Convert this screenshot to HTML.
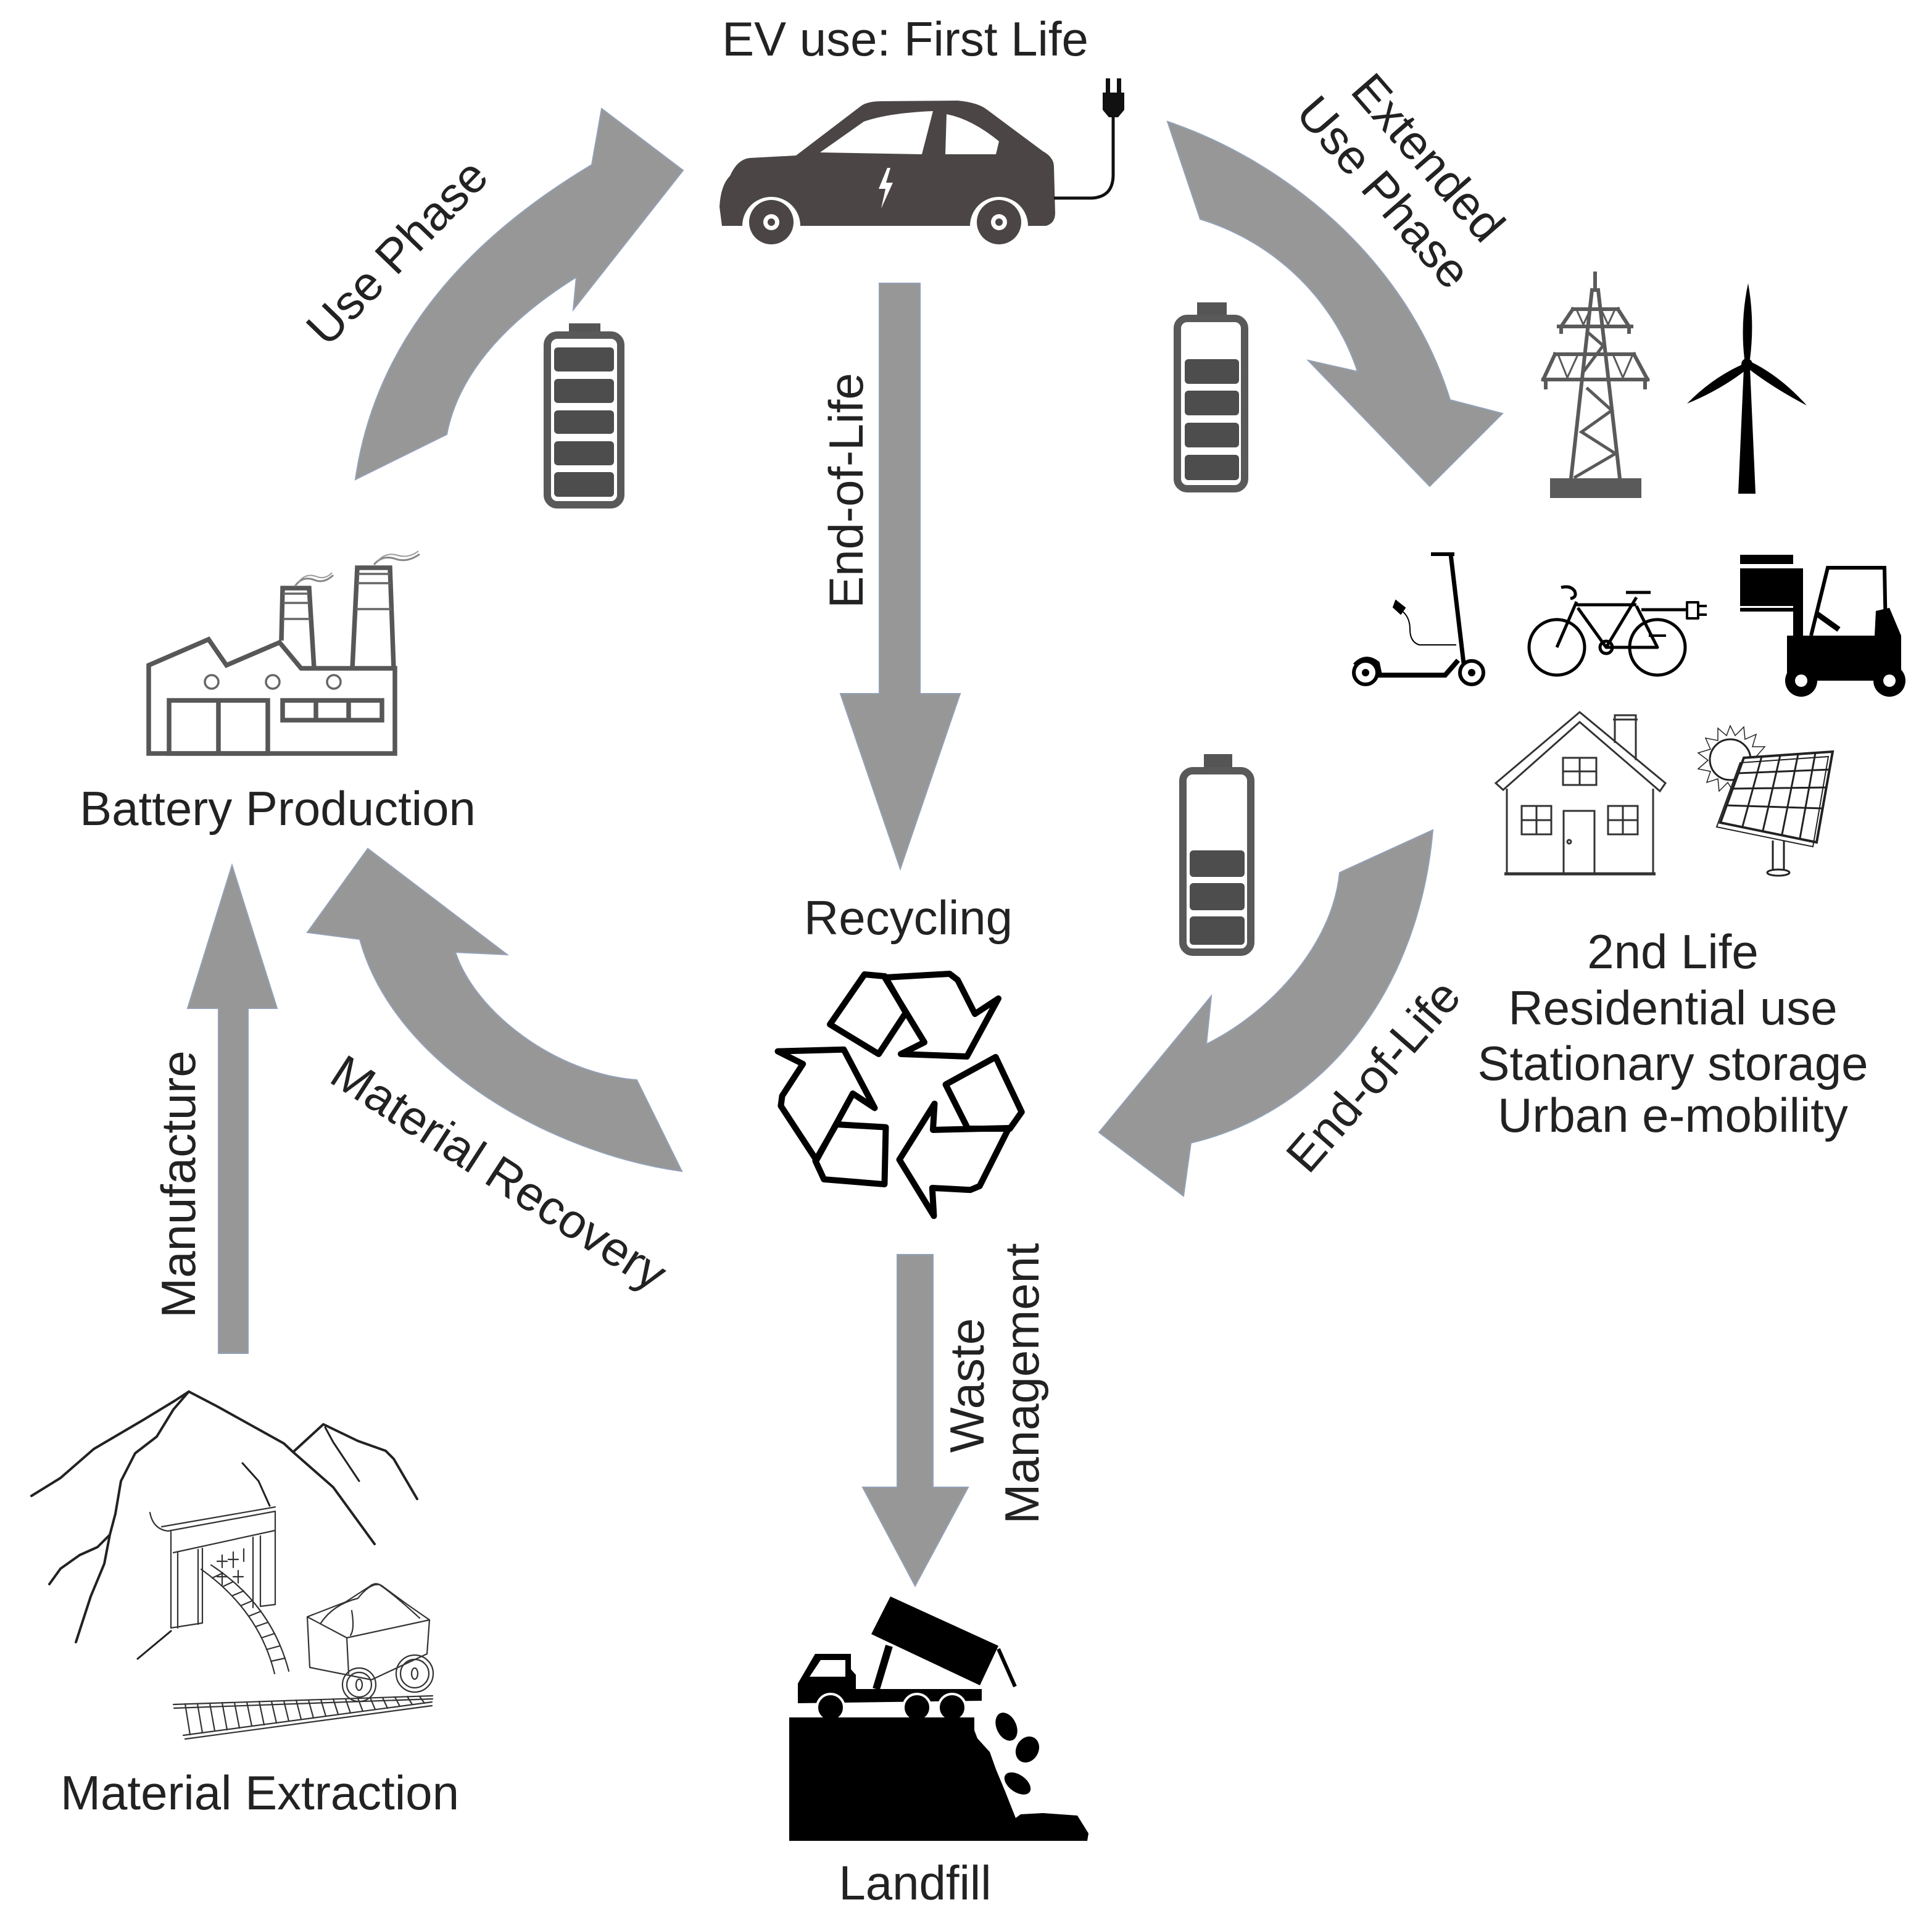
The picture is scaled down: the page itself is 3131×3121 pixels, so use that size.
<!DOCTYPE html>
<html>
<head>
<meta charset="utf-8">
<style>
html,body{margin:0;padding:0;background:#fff;}
svg{display:block;}
text{font-family:"Liberation Sans",Arial,sans-serif;font-size:78px;fill:#222;}
</style>
</head>
<body>
<svg width="3131" height="3121" viewBox="0 0 3131 3121" xmlns="http://www.w3.org/2000/svg">
<rect width="3131" height="3121" fill="#fff"/>

<!-- ============ ARROWS ============ -->
<g fill="#979797" stroke="#93a0b6" stroke-width="2" stroke-linejoin="miter">
  <!-- Use Phase -->
  <path d="M576,777 Q620,470 959,267 L975,176 L1107,276 L929,502 L934,449 Q751,564 724,704 Z"/>
  <!-- Extended Use Phase -->
  <path d="M1892,197 C2080,260 2280,420 2350,648 L2435,670 L2317,788 L2120,584 L2200,602 C2160,480 2060,390 1945,355 Z"/>
  <!-- End-of-Life (right) -->
  <path d="M2322,1345 C2300,1600 2150,1800 1930,1852 L1918,1938 L1781,1835 L1963,1614 L1955,1692 C2060,1640 2160,1530 2171,1414 Z"/>
  <!-- Material Recovery -->
  <path d="M1105,1898 C900,1870 640,1730 583,1522 L498,1511 L596,1375 L822,1547 L738,1543 C770,1640 900,1740 1032,1750 Z"/>
  <!-- End-of-Life vertical -->
  <path d="M1425,459 L1491,459 L1491,1124 L1556,1124 L1459,1408 L1362,1124 L1425,1124 Z"/>
  <!-- Waste management -->
  <path d="M1454,2033 L1512,2033 L1512,2410 L1569,2410 L1483,2570 L1398,2410 L1454,2410 Z"/>
  <!-- Manufacture -->
  <path d="M354,2193 L402,2193 L402,1634 L449,1634 L376,1402 L304,1634 L354,1634 Z"/>
</g>

<!-- ============ LABELS ============ -->
<text x="1467" y="90" text-anchor="middle">EV use: First Life</text>
<text x="450" y="1337" text-anchor="middle">Battery Production</text>
<text x="1472" y="1514" text-anchor="middle">Recycling</text>
<text x="421" y="2932" text-anchor="middle">Material Extraction</text>
<text x="1483" y="3078" text-anchor="middle">Landfill</text>
<text x="2711" y="1569" text-anchor="middle">2nd Life</text>
<text x="2711" y="1660" text-anchor="middle">Residential use</text>
<text x="2711" y="1750" text-anchor="middle">Stationary storage</text>
<text x="2711" y="1834" text-anchor="middle">Urban e-mobility</text>

<text transform="translate(316,1919) rotate(-90)" text-anchor="middle">Manufacture</text>
<text transform="translate(1398,795) rotate(-90)" text-anchor="middle">End-of-Life</text>
<text transform="translate(1594,2245) rotate(-90)" text-anchor="middle">Waste</text>
<text transform="translate(1683,2242) rotate(-90)" text-anchor="middle">Management</text>
<text transform="translate(643,408) rotate(-46)" text-anchor="middle" dy="0.35em">Use Phase</text>
<text transform="translate(2315,255) rotate(49)" text-anchor="middle" dy="0.35em">Extended</text>
<text transform="translate(2243,311) rotate(49)" text-anchor="middle" dy="0.35em">Use Phase</text>
<text transform="translate(2225,1743) rotate(-49)" text-anchor="middle" dy="0.35em">End-of-Life</text>
<text transform="translate(809,1900) rotate(33)" text-anchor="middle" dy="0.35em">Material Recovery</text>

<!-- ============ CAR ============ -->
<g>
  <path fill="#4b4546" d="M1170,366 L1166,335 Q1168,300 1183,285 Q1195,258 1215,256 L1290,252 L1395,172 Q1405,164 1430,164 L1552,163 Q1585,166 1600,178 L1690,245 Q1708,255 1708,270 L1710,345 Q1710,362 1695,366 L1666,366 A47,47 0 0 0 1572,366 L1297,366 A47,47 0 0 0 1203,366 Z"/>
  <path fill="#fff" d="M1329,247 L1400,197 Q1440,183 1512,180 L1494,250 Z"/>
  <path fill="#fff" d="M1534,185 Q1575,193 1619,229 L1614,250 L1532,250 Z"/>
  <path fill="#fff" d="M1438,272 L1424,306 L1435,306 L1428,338 L1447,296 L1436,296 L1443,272 Z"/>
  <circle cx="1250" cy="360" r="36" fill="#4b4546"/>
  <circle cx="1250" cy="360" r="13" fill="#fff"/>
  <circle cx="1250" cy="360" r="6" fill="#4b4546"/>
  <circle cx="1619" cy="360" r="36" fill="#4b4546"/>
  <circle cx="1619" cy="360" r="13" fill="#fff"/>
  <circle cx="1619" cy="360" r="6" fill="#4b4546"/>
  <path d="M1708,321 L1766,321 Q1804,321 1804,283 L1804,185" fill="none" stroke="#111" stroke-width="5"/>
  <path fill="#111" d="M1787,150 L1822,150 L1822,178 L1812,190 L1797,190 L1787,178 Z"/>
  <rect x="1792" y="127" width="7" height="25" fill="#111"/>
  <rect x="1810" y="127" width="7" height="25" fill="#111"/>
</g>

<!-- ============ BATTERIES ============ -->
<g>
  <!-- full -->
  <rect x="922" y="524" width="51" height="22" fill="#555"/>
  <rect x="887" y="543" width="119" height="275" rx="16" fill="none" stroke="#595959" stroke-width="12"/>
  <g fill="#4d4d4d">
    <rect x="898" y="563" width="97" height="39" rx="6"/>
    <rect x="898" y="614" width="97" height="39" rx="6"/>
    <rect x="898" y="665" width="97" height="38" rx="6"/>
    <rect x="898" y="715" width="97" height="39" rx="6"/>
    <rect x="898" y="765" width="97" height="40" rx="6"/>
  </g>
  <!-- 4 bars -->
  <rect x="1940" y="490" width="48" height="28" fill="#555"/>
  <rect x="1908" y="516" width="109" height="276" rx="16" fill="none" stroke="#595959" stroke-width="12"/>
  <g fill="#4d4d4d">
    <rect x="1920" y="582" width="88" height="40" rx="6"/>
    <rect x="1920" y="633" width="88" height="40" rx="6"/>
    <rect x="1920" y="685" width="88" height="40" rx="6"/>
    <rect x="1920" y="737" width="88" height="41" rx="6"/>
  </g>
  <!-- 3 bars -->
  <rect x="1951" y="1222" width="46" height="29" fill="#555"/>
  <rect x="1917" y="1249" width="110" height="294" rx="16" fill="none" stroke="#595959" stroke-width="12"/>
  <g fill="#4d4d4d">
    <rect x="1928" y="1378" width="89" height="43" rx="6"/>
    <rect x="1928" y="1431" width="89" height="44" rx="6"/>
    <rect x="1928" y="1485" width="89" height="46" rx="6"/>
  </g>
</g>

<!-- ============ FACTORY ============ -->
<g fill="none" stroke="#575757" stroke-width="7.5" stroke-linejoin="miter">
  <path d="M241,1221 L241,1078 L338,1036 L367,1078 L453,1041 L488,1083 L640,1083 L640,1221 Z"/>
  <path d="M456,1038 L458,953 L501,953 L509,1083"/>
  <path d="M571,1083 L579,920 L632,920 L638,1083"/>
  <rect x="274" y="1135" width="160" height="86"/>
  <line x1="354" y1="1135" x2="354" y2="1221"/>
  <rect x="458" y="1135" width="161" height="32"/>
  <line x1="512" y1="1135" x2="512" y2="1167"/>
  <line x1="565" y1="1135" x2="565" y2="1167"/>
</g>
<g fill="none" stroke="#666" stroke-width="3.5">
  <circle cx="343" cy="1105" r="11"/>
  <circle cx="442" cy="1105" r="11"/>
  <circle cx="541" cy="1105" r="11"/>
  <line x1="459" y1="962" x2="500" y2="962"/><line x1="459" y1="977" x2="501" y2="977"/><line x1="458" y1="1003" x2="503" y2="1003"/>
  <line x1="580" y1="930" x2="632" y2="930"/><line x1="579" y1="945" x2="633" y2="945"/><line x1="577" y1="987" x2="634" y2="987"/>
  <path d="M478,950 Q490,932 510,940 Q525,946 540,932" stroke="#888" stroke-width="3"/>
  <path d="M483,944 Q495,928 512,934 Q527,940 538,928" stroke="#999" stroke-width="2"/>
  <path d="M606,915 Q620,898 642,906 Q660,912 680,898" stroke="#888" stroke-width="3"/>
  <path d="M612,909 Q626,894 645,900 Q662,905 678,893" stroke="#999" stroke-width="2"/>
</g>

<!-- ============ RECYCLING SYMBOL ============ -->
<g fill="none" stroke="#000" stroke-width="10" stroke-linejoin="round">
  <g id="rp">
    <path d="M1434,1584 L1539,1578 L1552,1588 L1580,1643 L1618,1618 L1567,1712 L1460,1708 L1498,1689 Z"/>
    <path d="M1345,1660 L1401,1579 L1434,1582 L1468,1641 L1424,1708 Z"/>
  </g>
  <g transform="rotate(120 1464 1764)">
    <path d="M1434,1584 L1539,1578 L1552,1588 L1580,1643 L1618,1618 L1567,1712 L1460,1708 L1498,1689 Z"/>
    <path d="M1345,1660 L1401,1579 L1434,1582 L1468,1641 L1424,1708 Z"/>
  </g>
  <g transform="rotate(240 1464 1764)">
    <path d="M1434,1584 L1539,1578 L1552,1588 L1580,1643 L1618,1618 L1567,1712 L1460,1708 L1498,1689 Z"/>
    <path d="M1345,1660 L1401,1579 L1434,1582 L1468,1641 L1424,1708 Z"/>
  </g>
</g>

<!-- ============ LANDFILL ============ -->
<g fill="#000">
  <path d="M1279,2783 L1571,2783 L1584,2817 L1604,2839 L1614,2867 L1629,2903 L1646,2946 L1654,2940 L1690,2938 L1746,2942 L1764,2971 L1762,2983 L1279,2983 Z"/>
  <path d="M1293,2760 L1293,2728 L1321,2680 L1379,2680 L1379,2705 L1387,2714 L1387,2737 L1591,2737 L1591,2756 Z"/>
  <path fill="#fff" d="M1312,2717 L1330,2690 L1370,2690 L1370,2717 Z"/>
  <path d="M1443,2587 L1618,2667 L1588,2731 L1412,2648 Z"/>
  <line x1="1441" y1="2667" x2="1420" y2="2737" stroke="#000" stroke-width="12"/>
  <line x1="1618" y1="2672" x2="1645" y2="2733" stroke="#000" stroke-width="6"/>
  <circle cx="1346" cy="2767" r="22" stroke="#fff" stroke-width="4"/>
  <circle cx="1486" cy="2767" r="22" stroke="#fff" stroke-width="4"/>
  <circle cx="1543" cy="2767" r="22" stroke="#fff" stroke-width="4"/>
  <rect x="1279" y="2783" width="300" height="30"/>
  <ellipse cx="1631" cy="2798" rx="16" ry="24" transform="rotate(-25 1631 2798)"/>
  <ellipse cx="1665" cy="2835" rx="18" ry="22" transform="rotate(30 1665 2835)"/>
  <ellipse cx="1649" cy="2890" rx="24" ry="14" transform="rotate(35 1649 2890)"/>
</g>

<!-- ============ MINING ============ -->
<g fill="none" stroke="#222" stroke-linecap="round" stroke-linejoin="round">
  <path stroke-width="4" d="M51,2424 L98,2395 L152,2348 L232,2301 L283,2270 L306,2255 L352,2279 L424,2319 L460,2339 L475,2353 L540,2410 L607,2502"/>
  <path stroke-width="4" d="M475,2353 L524,2308 L580,2335 L625,2351 L638,2364 L676,2429"/>
  <path stroke-width="3" d="M527,2313 L540,2337 L582,2400"/>
  <path stroke-width="4" d="M306,2255 L281,2284 L254,2328 L219,2355 L196,2400 L187,2453 L178,2487 L158,2507 L129,2520 L98,2542 L80,2567"/>
  <path stroke-width="4" d="M178,2487 L169,2534 L147,2587 L123,2661"/>
  <path stroke-width="3" d="M393,2371 L419,2400 L437,2440"/>
  <path stroke-width="3" d="M223,2688 L277,2643"/>
  <g stroke-width="2.2" stroke="#333">
    <path d="M243,2451 Q248,2478 272,2481 L446,2449 L446,2600 L422,2603"/>
    <path d="M262,2474 L446,2442"/>
    <path d="M281,2516 L446,2480"/>
    <path d="M277,2482 L277,2638 L328,2630"/>
    <path d="M288,2516 L288,2638"/>
    <path d="M321,2511 L321,2632"/>
    <path d="M328,2509 L328,2630"/>
    <path d="M410,2491 L410,2605"/>
    <path d="M422,2489 L422,2603"/>
    <path d="M360,2520 L360,2540 M352,2530 L368,2530 M378,2515 L378,2540 M370,2527 L386,2527 M395,2510 L395,2530 M386,2545 L386,2565 M378,2555 L394,2555 M352,2555 L368,2555 M360,2548 L360,2568"/>
    <path d="M326,2543 Q420,2610 445,2712"/>
    <path d="M342,2536 Q440,2600 468,2708"/>
    <path d="M344,2557 L361,2549 M361,2571 L378,2563 M376,2586 L395,2578 M390,2602 L409,2594 M403,2619 L423,2611 M414,2636 L434,2629 M424,2654 L445,2647 M432,2673 L454,2667 M439,2692 L462,2687"/>
    <path d="M281,2762 L701,2748 M282,2768 L701,2753"/>
    <path d="M297,2812 L700,2758 M300,2818 L700,2764"/>
    <path d="M300,2761 L308,2811 M320,2761 L328,2808 M340,2760 L348,2805 M360,2759 L368,2803 M380,2759 L388,2800 M400,2758 L408,2797 M420,2757 L428,2795 M440,2757 L448,2792 M460,2756 L468,2789 M480,2755 L488,2786 M500,2755 L508,2784 M520,2754 L528,2781 M540,2753 L548,2778 M560,2753 L568,2776 M580,2752 L588,2773 M600,2751 L608,2770 M620,2751 L628,2768 M640,2750 L648,2765 M660,2749 L668,2762 M680,2749 L688,2760"/>
    <path d="M498,2620 L562,2654 L696,2625 L692,2680 L602,2722 L502,2702 Z"/>
    <path d="M562,2654 L565,2712"/>
    <path d="M498,2620 L560,2596 L600,2570 Q610,2562 622,2572 L660,2600 L696,2625"/>
    <path d="M520,2630 Q540,2600 580,2590 Q600,2565 615,2568 Q640,2585 680,2622"/>
    <path d="M570,2610 Q575,2640 568,2650"/>
    <circle cx="582" cy="2730" r="27"/>
    <circle cx="582" cy="2730" r="20"/>
    <ellipse cx="582" cy="2730" rx="5" ry="9"/>
    <circle cx="672" cy="2712" r="30"/>
    <circle cx="672" cy="2712" r="23"/>
    <ellipse cx="672" cy="2712" rx="5" ry="9"/>
  </g>
</g>

<!-- ============ RIGHT ICONS ============ -->
<!-- Pylon -->
<g stroke="#5a5a5a" stroke-width="6" fill="none" stroke-linecap="square">
  <rect x="2512" y="775" width="148" height="32" fill="#5a5a5a" stroke="none"/>
  <line x1="2585" y1="443" x2="2585" y2="470"/>
  <path d="M2580,470 L2546,775 M2590,470 L2625,775"/>
  <path d="M2549,501 L2622,501 M2526,529 L2644,529 M2549,501 L2530,529 M2622,501 L2640,529 M2530,529 L2530,538 M2640,529 L2640,538"/>
  <path d="M2520,574 L2648,574 M2501,615 L2670,615 M2520,574 L2501,615 M2648,574 L2670,615 M2505,615 L2505,628 M2666,615 L2666,628" />
  <path stroke-width="3" d="M2556,504 L2566,526 L2576,504 M2596,504 L2606,526 L2616,504 M2526,577 L2540,612 L2556,577 M2615,577 L2630,612 L2645,577"/>
  <path stroke-width="5" d="M2575,540 L2598,560 L2568,600 M2573,630 L2612,665 L2563,700 L2618,735 L2553,773"/>
</g>
<!-- Wind turbine -->
<g fill="#000">
  <path d="M2826,596 L2836,596 L2845,800 L2817,800 Z"/>
  <circle cx="2831" cy="590" r="9"/>
  <path d="M2827,582 Q2820,520 2833,459 Q2844,520 2836,582 Z"/>
  <path d="M2825,590 Q2775,612 2734,654 Q2786,633 2829,600 Z"/>
  <path d="M2837,586 Q2886,610 2928,657 Q2876,630 2834,598 Z"/>
</g>
<!-- Scooter -->
<g stroke="#000" fill="none">
  <circle cx="2213" cy="1090" r="19" stroke-width="6"/>
  <circle cx="2213" cy="1090" r="6" fill="#000" stroke="none"/>
  <circle cx="2385" cy="1090" r="19" stroke-width="6"/>
  <circle cx="2385" cy="1090" r="6" fill="#000" stroke="none"/>
  <path d="M2196,1078 Q2213,1060 2232,1075 L2236,1094 L2342,1094 L2363,1070" stroke-width="8"/>
  <path d="M2372,1075 L2351,898" stroke-width="7"/>
  <path d="M2319,898 L2357,898" stroke-width="6"/>
  <path d="M2360,1045 L2300,1045 Q2285,1040 2285,1020 Q2285,1000 2272,990" stroke-width="2"/>
  <path d="M2262,973 L2277,985 L2270,995 L2258,984 Z" fill="#000" stroke-width="2"/>
</g>
<!-- Bike -->
<g stroke="#000" fill="none" stroke-width="5" stroke-linejoin="round">
  <circle cx="2523" cy="1049" r="45"/>
  <circle cx="2686" cy="1049" r="45"/>
  <path d="M2523,1049 L2555,975 M2530,952 Q2545,948 2552,958 Q2556,968 2545,970"/>
  <path d="M2555,980 L2652,980 M2557,985 L2603,1049 L2652,968 M2603,1049 L2686,1049 L2652,982"/>
  <path d="M2635,960 L2675,960"/>
  <circle cx="2603" cy="1049" r="10"/>
  <path d="M2660,988 L2734,988"/>
  <path d="M2734,976 L2752,976 L2752,1002 L2734,1002 Z" stroke-width="4"/>
  <path d="M2752,982 L2766,982 M2752,996 L2766,996" stroke-width="4"/>
  <path d="M2672,1030 L2700,1030" stroke-width="4"/>
</g>
<!-- Forklift -->
<g fill="#000">
  <rect x="2820" y="899" width="86" height="15"/>
  <rect x="2820" y="921" width="86" height="61"/>
  <rect x="2820" y="985" width="86" height="6"/>
  <rect x="2906" y="921" width="16" height="157"/>
  <path d="M2935,1030 L2962,920 L3054,920 L3056,1025" fill="none" stroke="#000" stroke-width="6"/>
  <path d="M2896,1030 L3038,1030 L3040,990 L3062,985 L3081,1030 L3081,1103 L2896,1103 Z"/>
  <path d="M2945,995 L2980,1020" stroke="#000" stroke-width="9"/>
  <circle cx="2919" cy="1103" r="26"/>
  <circle cx="2919" cy="1103" r="10" fill="#fff"/>
  <circle cx="3062" cy="1103" r="26"/>
  <circle cx="3062" cy="1103" r="10" fill="#fff"/>
</g>
<!-- House -->
<g stroke="#333" stroke-width="3" fill="none">
  <path d="M2424,1269 L2560,1154 L2699,1269 L2690,1282 L2560,1170 L2436,1280 Z" fill="#fff"/>
  <path d="M2442,1278 L2442,1416 M2679,1278 L2679,1416"/>
  <path d="M2438,1416 L2683,1416" stroke-width="5"/>
  <path d="M2617,1204 L2617,1159 L2651,1159 L2651,1232"/>
  <path d="M2614,1166 L2654,1166"/>
  <rect x="2534" y="1314" width="50" height="102"/>
  <circle cx="2543" cy="1364" r="3"/>
  <rect x="2466" y="1306" width="48" height="46"/>
  <path d="M2490,1306 L2490,1352 M2466,1329 L2514,1329"/>
  <rect x="2606" y="1306" width="48" height="46"/>
  <path d="M2630,1306 L2630,1352 M2606,1329 L2654,1329"/>
  <rect x="2533" y="1228" width="54" height="44"/>
  <path d="M2560,1228 L2560,1272 M2533,1250 L2587,1250"/>
</g>
<!-- Solar -->
<g fill="none" stroke="#222">
  <path stroke-width="1.5" d="M2804,1176 L2812,1192 L2826,1178 L2828,1198 L2846,1190 L2840,1210 L2860,1210 L2846,1226 L2860,1236 L2842,1242 L2852,1260 L2832,1258 L2834,1278 L2818,1266 L2810,1284 L2800,1268 L2786,1282 L2784,1262 L2766,1268 L2772,1250 L2752,1246 L2768,1232 L2752,1220 L2772,1214 L2764,1196 L2784,1200 L2784,1180 L2798,1192 Z"/>
  <circle cx="2804" cy="1231" r="33" stroke-width="3" fill="#fff"/>
  <path d="M2826,1228 L2970,1218 L2944,1365 L2788,1333 Z" fill="#fff" stroke-width="4"/>
  <path d="M2820,1236 L2963,1226 L2938,1372 L2782,1340 Z" stroke-width="2"/>
  <path stroke-width="3" d="M2816,1253 L2966,1247 M2806,1278 L2961,1276 M2797,1305 L2954,1310 M2855,1226 L2824,1339 M2885,1224 L2857,1346 M2914,1222 L2888,1352 M2942,1220 L2917,1358"/>
  <path d="M2873,1362 L2873,1410 M2891,1362 L2891,1410" stroke-width="3"/>
  <ellipse cx="2882" cy="1414" rx="18" ry="5" stroke-width="3"/>
</g>

</svg>
</body>
</html>
